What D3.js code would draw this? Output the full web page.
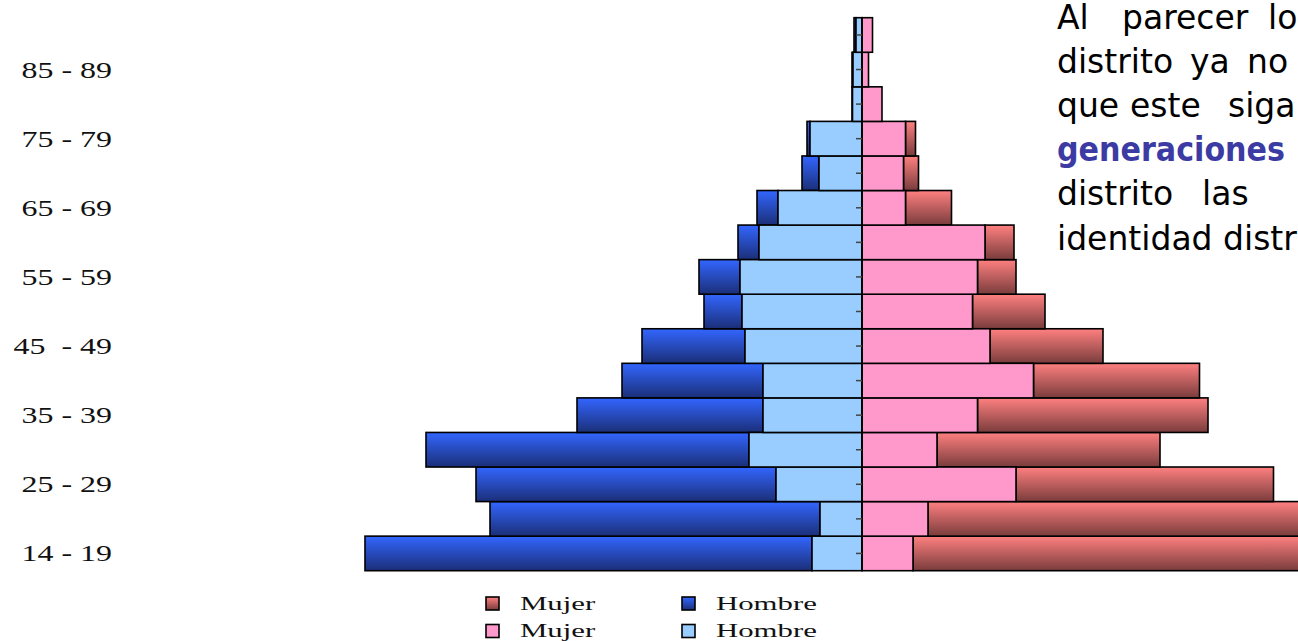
<!DOCTYPE html>
<html>
<head>
<meta charset="utf-8">
<script src="https://cdn.jsdelivr.net/npm/d3@7"></script>
<style>
  html, body { margin: 0; padding: 0; background: #fff; overflow: hidden; }
  svg { display: block; }
</style>
</head>
<body>
<svg id="chart" width="1298" height="641"></svg>
<script>
// age groups, bottom to top
var ageGroups = ["14 - 19", "20 - 24", "25 - 29", "30 - 34", "35 - 39", "40 - 44",
                 "45  - 49", "50 - 54", "55 - 59", "60 - 64", "65 - 69", "70 - 74",
                 "75 - 79", "80 - 84", "85 - 89", "90 - 94"];
// only every other group carries a label
var shownLabels = ["14 - 19", "25 - 29", "35 - 39", "45  - 49", "55 - 59", "65 - 69", "75 - 79", "85 - 89"];

// inner (light) and outer (dark) series
var hombreLight = [100, 84, 172, 226, 198, 198, 234, 240, 244, 206, 168, 86, 104, 19, 18, 12];
var hombreDark  = [894, 660, 600, 646, 372, 282, 206, 76, 82, 42, 42, 34, 6, 1, 2, 4];
var mujerLight  = [102, 132, 308, 150, 231, 343, 256, 221, 231, 246, 87, 83, 87, 40, 13, 21];
var mujerDark   = [860, 800, 515, 446, 461, 332, 226, 145, 77, 58, 92, 30, 20, 0, 0, 0];

var legendRows = [
  [{name: "Mujer", fill: "url(#gradRed)"}, {name: "Hombre", fill: "url(#gradBlue)"}],
  [{name: "Mujer", fill: "#ff99cc"}, {name: "Hombre", fill: "#99ccff"}]
];

// justified note, words placed where the picture has them
var noteLines = [
  {words: ["Al", "parecer", "los"], xs: [1057, 1122, 1268]},
  {words: ["distrito", "ya", "no"], xs: [1057, 1190, 1247]},
  {words: ["que", "este", "siga"], xs: [1057, 1130, 1228]},
  {words: ["generaciones"], xs: [1057], bold: true},
  {words: ["distrito", "las"], xs: [1057, 1202]},
  {words: ["identidad distrital"], xs: [1057]}
];

var svg = d3.select("#chart");

// gradients for the outer bars
var defs = svg.append("defs");
function addGrad(id, top, bottom) {
  var g = defs.append("linearGradient").attr("id", id)
    .attr("x1", 0).attr("y1", 0).attr("x2", 0).attr("y2", 1);
  g.append("stop").attr("offset", "0%").attr("stop-color", top);
  g.append("stop").attr("offset", "100%").attr("stop-color", bottom);
}
addGrad("gradBlue", "#3366ff", "#1b2f78");
addGrad("gradRed", "#ff8080", "#7a3c3c");

var x = d3.scaleLinear().domain([-1000, 1000]).range([362, 1362]);
var y = d3.scaleBand().domain(ageGroups.slice().reverse()).range([17.7, 570.7]).padding(0);

var rows = ageGroups.map(function(g, i) {
  return {group: g, hl: hombreLight[i], hd: hombreDark[i], ml: mujerLight[i], md: mujerDark[i]};
});

var bars = svg.append("g").attr("stroke", "#000").attr("stroke-width", 1.6);

// Hombre, to the left
bars.selectAll(".hd").data(rows).join("rect")
  .attr("x", function(d) { return x(-(d.hl + d.hd)); })
  .attr("width", function(d) { return x(-d.hl) - x(-(d.hl + d.hd)); })
  .attr("y", function(d) { return y(d.group); })
  .attr("height", y.bandwidth())
  .attr("fill", "url(#gradBlue)");
bars.selectAll(".hl").data(rows).join("rect")
  .attr("x", function(d) { return x(-d.hl); })
  .attr("width", function(d) { return x(0) - x(-d.hl); })
  .attr("y", function(d) { return y(d.group); })
  .attr("height", y.bandwidth())
  .attr("fill", "#99ccff");

// Mujer, to the right
bars.selectAll(".md").data(rows).join("rect")
  .attr("x", function(d) { return x(d.ml); })
  .attr("width", function(d) { return x(d.ml + d.md) - x(d.ml); })
  .attr("y", function(d) { return y(d.group); })
  .attr("height", y.bandwidth())
  .attr("fill", "url(#gradRed)");
bars.selectAll(".ml").data(rows).join("rect")
  .attr("x", x(0))
  .attr("width", function(d) { return x(d.ml) - x(0); })
  .attr("y", function(d) { return y(d.group); })
  .attr("height", y.bandwidth())
  .attr("fill", "#ff99cc");

// central axis with small ticks
var axisG = svg.append("g").attr("transform", "translate(" + x(0) + ",0)")
  .call(d3.axisLeft(y).tickSize(6).tickFormat(""));
axisG.select(".domain").attr("stroke", "#000").attr("stroke-width", 2)
  .attr("d", "M0," + y.range()[0] + "V" + y.range()[1]);
axisG.selectAll(".tick line").attr("stroke", "#444").attr("stroke-width", 1.5);

// age labels at the far left (stretched serif, as in the picture)
svg.append("g").selectAll("text").data(shownLabels).join("text")
  .attr("transform", function(d) { return "translate(112," + (y(d) + y.bandwidth() / 2 + 8) + ") scale(1.42,1)"; })
  .attr("text-anchor", "end")
  .attr("font-family", "'Liberation Serif', serif")
  .attr("font-size", 22.5)
  .attr("fill", "#111")
  .style("white-space", "pre")
  .text(function(d) { return d; });

// legend
var legend = svg.append("g");
legendRows.forEach(function(row, r) {
  row.forEach(function(item, c) {
    var lx = c === 0 ? 486 : 682, ly = 597 + r * 27.5;
    legend.append("rect").attr("x", lx).attr("y", ly).attr("width", 13).attr("height", 13)
      .attr("fill", item.fill).attr("stroke", "#000").attr("stroke-width", 1.6);
    legend.append("text")
      .attr("transform", "translate(" + (lx + 34) + "," + (ly + 12.5) + ") scale(1.62,1)")
      .attr("font-family", "'Liberation Serif', serif")
      .attr("font-size", 19)
      .attr("fill", "#111")
      .text(item.name);
  });
});

// note on the right, cut by the page edge as in the picture
var note = svg.append("g").attr("font-family", "'DejaVu Sans', sans-serif").attr("font-size", 33);
noteLines.forEach(function(line, i) {
  var t = note.append("text").attr("y", 29 + i * 44.1)
    .attr("fill", line.bold ? "#3b3ba3" : "#000")
    .attr("font-weight", line.bold ? "bold" : "normal");
  line.words.forEach(function(w, j) {
    var ts = t.append("tspan").attr("x", line.xs[j]).text(w);
    if (line.bold) ts.attr("textLength", 228).attr("lengthAdjust", "spacingAndGlyphs");
  });
});
</script>
</body>
</html>
